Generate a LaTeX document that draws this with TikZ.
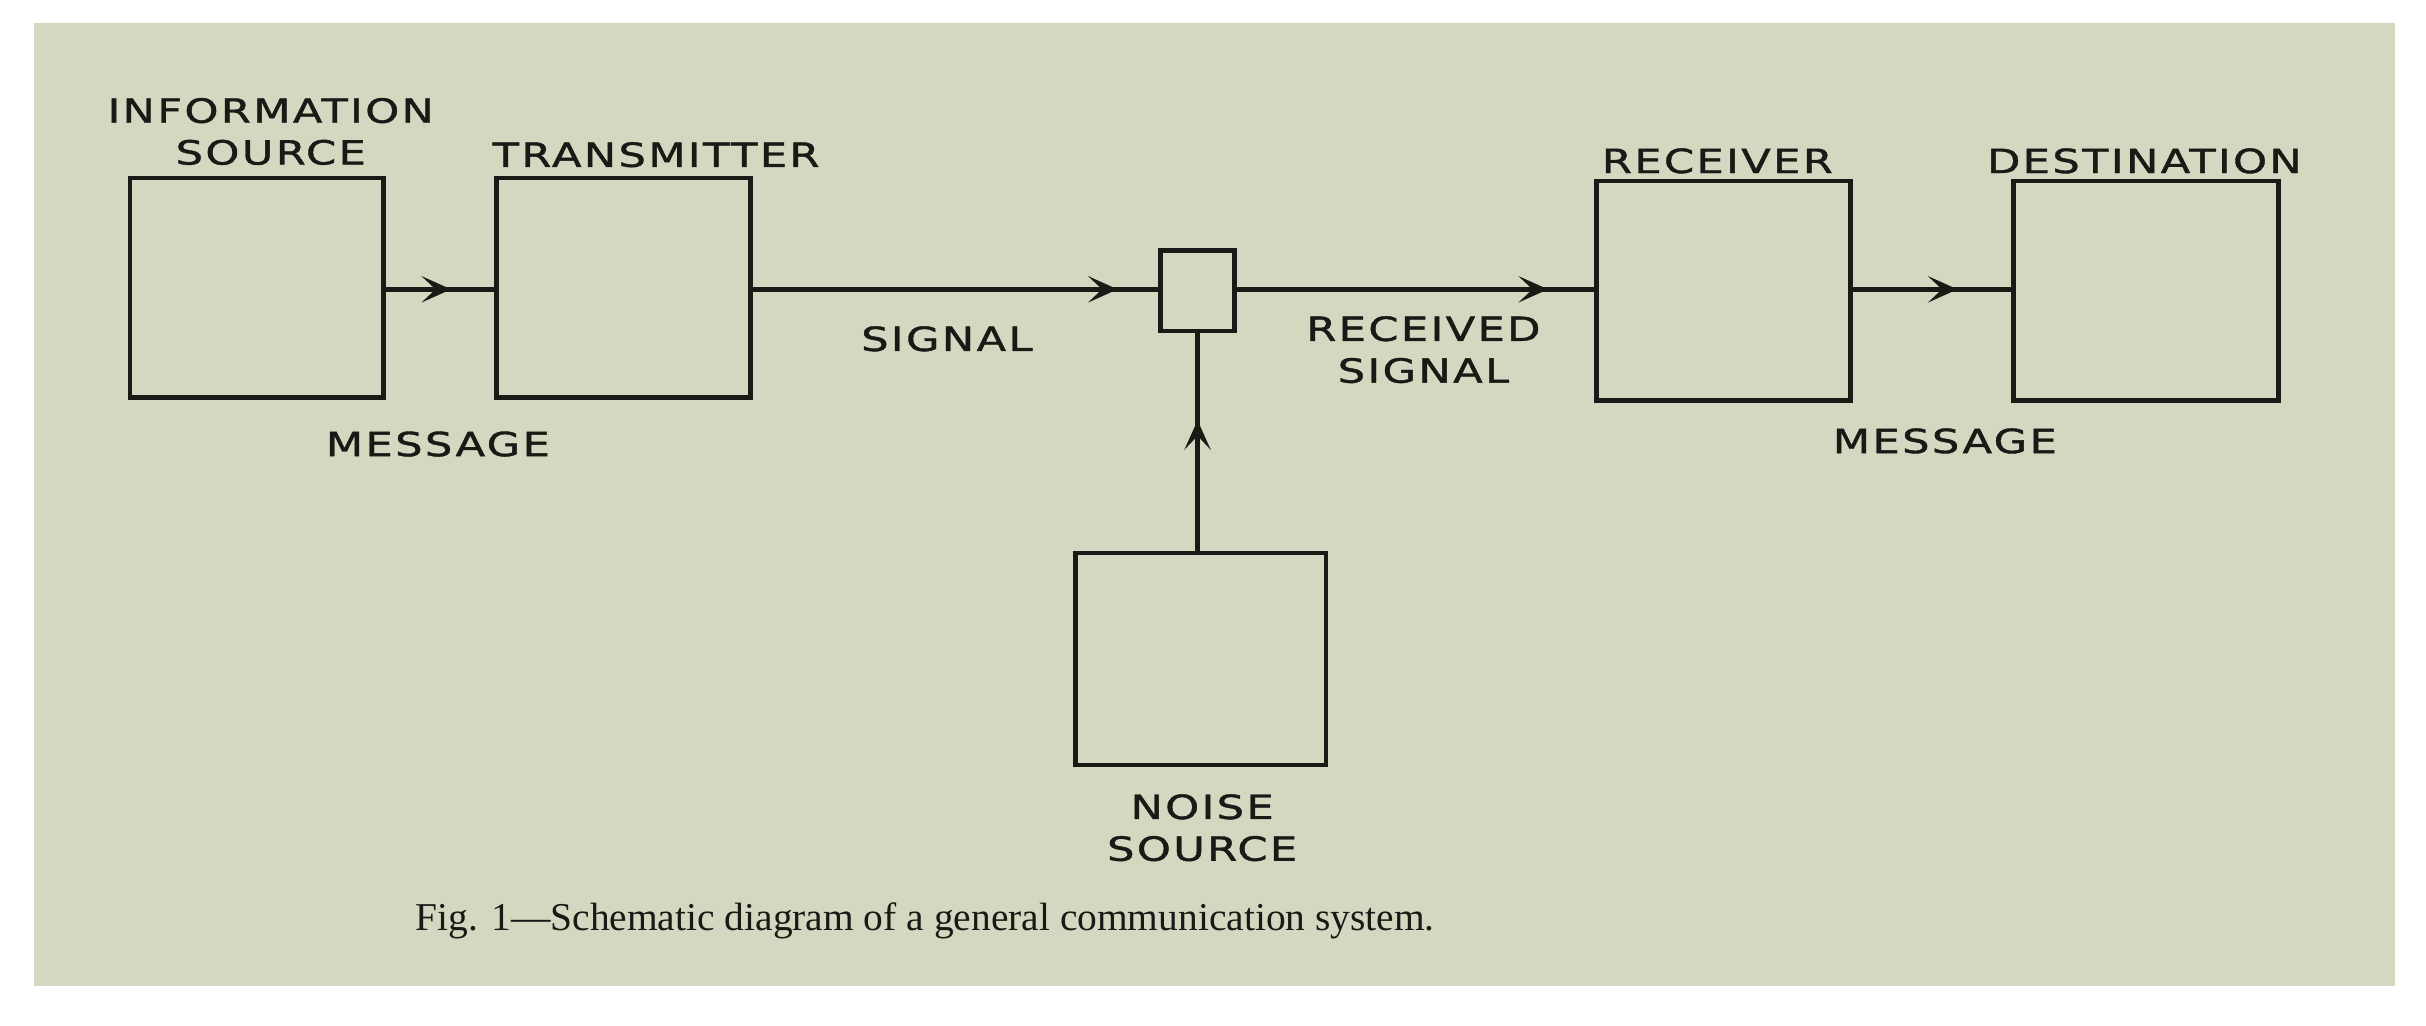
\documentclass[tikz,border=0pt]{standalone}
\usepackage{fontspec}
\setmainfont{Liberation Serif}
\newfontfamily\lblfont[FakeStretch=1.3, LetterSpace=7, FakeBold=1.2]{DejaVu Sans}
\usetikzlibrary{positioning,arrows.meta,decorations.markings}
\definecolor{paper}{RGB}{214,215,192}
\definecolor{ink}{RGB}{25,25,22}
\tikzset{
  blk/.style={draw=ink, line width=3pt, minimum width=164pt, minimum height=142pt, inner sep=0pt},
  lbl/.style={font=\lblfont\fontsize{21.5}{27}\selectfont, text=ink, align=center, inner sep=0pt},
  wire/.style={draw=ink, line width=3pt, postaction={decorate},
    decoration={markings, mark=at position #1 with {\arrow[ink]{Stealth[length=19pt, width=17pt, inset=9pt]}}}},
  wire/.default=0.5
}
\begin{document}
\begin{tikzpicture}[x=1pt, y=-1pt]
  \useasboundingbox (0,0) rectangle (1568,663);
  \fill[white] (0,0) rectangle (1568,663);
  \fill[paper] (22,15) rectangle (1548,637);
  % blocks
  \node[blk] (src) at (166,186) {};
  \node[blk] (tx) at (403,186) {};
  \node[draw=ink, line width=3pt, minimum width=48pt, minimum height=52pt, inner sep=0pt] (ch) at (774,188) {};
  \node[blk] (rx) at (1114,188) {};
  \node[blk, minimum width=171pt] (dst) at (1387,188) {};
  \node[blk, minimum width=162pt, minimum height=137pt] (ns) at (776,426) {};
  % connectors
  \path[wire=0.6] (src.east |- 0,187) -- (tx.west |- 0,187);
  \path[wire=0.9] (tx.east |- 0,187) -- (ch.west |- 0,187);
  \path[wire=0.87] (ch.east |- 0,187) -- (rx.west |- 0,187);
  \path[wire=0.66] (rx.east |- 0,187) -- (dst.west |- 0,187);
  \path[wire=0.6] (ns.north -| ch.south) -- (ch.south);
  % labels
  \node[lbl] (lsrc) at (175,85) {INFORMATION\\SOURCE};
  \node[lbl] at (424,100) {TRANSMITTER};
  \node[lbl] at (283,287) {MESSAGE};
  \node[lbl] at (612,219) {SIGNAL};
  \node[lbl] at (920,226) {RECEIVED\\SIGNAL};
  \node[lbl] at (1110,104) {RECEIVER};
  \node[lbl] at (1386,104) {DESTINATION};
  \node[lbl] at (1257,285) {MESSAGE};
  \node[lbl] at (777,535) {NOISE\\SOURCE};
  \node[font=\fontsize{25.5}{30}\selectfont, text=ink, inner sep=0pt] at (598,595)
    {Fig. 1---Schematic diagram of a general communication system.};
\end{tikzpicture}
\end{document}
